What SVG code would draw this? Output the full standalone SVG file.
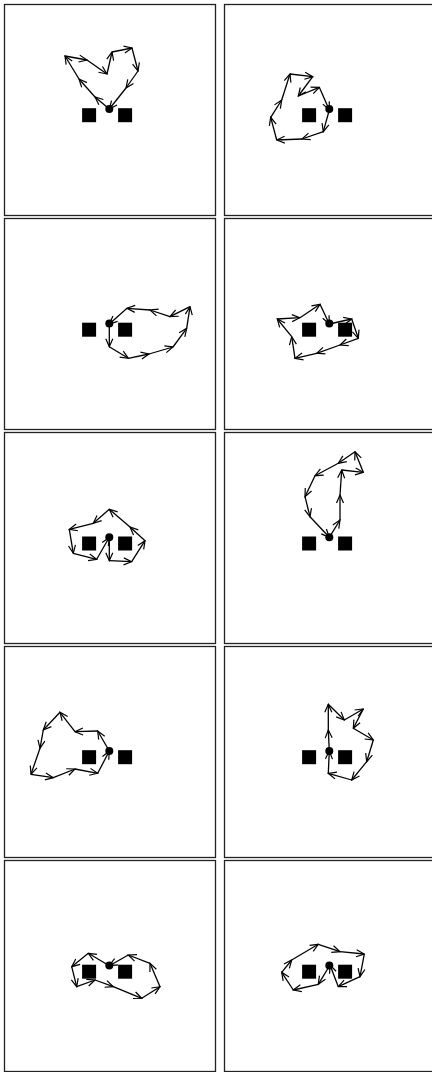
<svg xmlns="http://www.w3.org/2000/svg" xmlns:xlink="http://www.w3.org/1999/xlink" width="432" height="1072" viewBox="0 0 432 1072">
<style>
.frame{fill:#fff;stroke:#222;stroke-width:1.3}
.sq{fill:#000}
.dot{fill:#000}
.step{stroke:#000;stroke-width:1.3;fill:none;marker-end:url(#ah)}
</style>
<defs>
<marker id="ah" viewBox="-10 -5 11 10" refX="0" refY="0" markerWidth="11" markerHeight="10" markerUnits="userSpaceOnUse" orient="auto">
<path d="M-8,-3.5 L0,0 L-8,3.5" fill="none" stroke="#000" stroke-width="1.2"/>
</marker>
<g id="fx">
<rect class="sq" x="-27.2" y="-0.8" width="14" height="14"/>
<rect class="sq" x="8.8" y="-0.8" width="14" height="14"/>
<circle class="dot" cx="0" cy="0" r="4"/>
</g>
</defs>
<rect width="432" height="1072" fill="#fff"/>
<g id="panel-1"><rect class="frame" x="4.5" y="4.5" width="211" height="211"/><use xlink:href="#fx" x="109.3" y="109"/></g>
<g id="panel-2"><rect class="frame" x="224.5" y="4.5" width="211" height="211"/><use xlink:href="#fx" x="329.3" y="109"/></g>
<g id="panel-3"><rect class="frame" x="4.5" y="218.5" width="211" height="211"/><use xlink:href="#fx" x="109.3" y="323.5"/></g>
<g id="panel-4"><rect class="frame" x="224.5" y="218.5" width="211" height="211"/><use xlink:href="#fx" x="329.3" y="323.5"/></g>
<g id="panel-5"><rect class="frame" x="4.5" y="432.5" width="211" height="211"/><use xlink:href="#fx" x="109.3" y="537.3"/></g>
<g id="panel-6"><rect class="frame" x="224.5" y="432.5" width="211" height="211"/><use xlink:href="#fx" x="329.3" y="537.3"/></g>
<g id="panel-7"><rect class="frame" x="4.5" y="646.5" width="211" height="211"/><use xlink:href="#fx" x="109.3" y="751"/></g>
<g id="panel-8"><rect class="frame" x="224.5" y="646.5" width="211" height="211"/><use xlink:href="#fx" x="329.3" y="751"/></g>
<g id="panel-9"><rect class="frame" x="4.5" y="860.5" width="211" height="211"/><use xlink:href="#fx" x="109.3" y="965.5"/></g>
<g id="panel-10"><rect class="frame" x="224.5" y="860.5" width="211" height="211"/><use xlink:href="#fx" x="329.3" y="965.5"/></g>
<g id="connectors">
<g id="walk-1">
<path class="step" d="M109.3,109 L95,97"/><path class="step" d="M95,97 L79,79"/><path class="step" d="M79,79 L65,56"/><path class="step" d="M65,56 L87,60"/><path class="step" d="M87,60 L107,74"/><path class="step" d="M107,74 L112,52"/><path class="step" d="M112,52 L132,48"/><path class="step" d="M132,48 L138,71"/><path class="step" d="M138,71 L126,88"/><path class="step" d="M126,88 L109.3,109"/>
</g>
<g id="walk-2">
<path class="step" d="M329.3,110 L323.3,131.7"/><path class="step" d="M323.3,131.7 L302,139"/><path class="step" d="M302,139 L276.7,140"/><path class="step" d="M276.7,140 L270.7,117.3"/><path class="step" d="M270.7,117.3 L281.7,100"/><path class="step" d="M281.7,100 L290,74"/><path class="step" d="M290,74 L312.7,76.7"/><path class="step" d="M312.7,76.7 L298.3,96"/><path class="step" d="M298.3,96 L319.3,87.3"/><path class="step" d="M319.3,87.3 L329.3,110"/>
</g>
<g id="walk-3">
<path class="step" d="M109.3,324 L109.3,346.7"/><path class="step" d="M109.3,346.7 L128.3,358.3"/><path class="step" d="M128.3,358.3 L149,354"/><path class="step" d="M149,354 L173,347"/><path class="step" d="M173,347 L186.7,328.3"/><path class="step" d="M186.7,328.3 L190,306.7"/><path class="step" d="M190,306.7 L170,316.7"/><path class="step" d="M170,316.7 L150,310"/><path class="step" d="M150,310 L127,308.3"/><path class="step" d="M127,308.3 L109.3,324"/>
</g>
<g id="walk-4">
<path class="step" d="M329.3,324 L351.7,319"/><path class="step" d="M351.7,319 L358.3,338.3"/><path class="step" d="M358.3,338.3 L340,345"/><path class="step" d="M340,345 L316.7,353.3"/><path class="step" d="M316.7,353.3 L295,358.3"/><path class="step" d="M295,358.3 L291.7,336.7"/><path class="step" d="M291.7,336.7 L277.3,319"/><path class="step" d="M277.3,319 L300,317.7"/><path class="step" d="M300,317.7 L320,304.3"/><path class="step" d="M320,304.3 L329.3,324"/>
</g>
<g id="walk-5">
<path class="step" d="M109.3,537.3 L109.3,560.7"/><path class="step" d="M109.3,560.7 L131.7,561.7"/><path class="step" d="M131.7,561.7 L145,540.7"/><path class="step" d="M145,540.7 L130,527"/><path class="step" d="M130,527 L109.3,509.3"/><path class="step" d="M109.3,509.3 L93.3,523.3"/><path class="step" d="M93.3,523.3 L69.3,529.3"/><path class="step" d="M69.3,529.3 L73.3,553.3"/><path class="step" d="M73.3,553.3 L96.7,559.3"/><path class="step" d="M96.7,559.3 L109.3,537.3"/>
</g>
<g id="walk-6">
<path class="step" d="M329.3,537.3 L340,520"/><path class="step" d="M340,520 L340,495"/><path class="step" d="M340,495 L341.7,470"/><path class="step" d="M341.7,470 L363.3,472.3"/><path class="step" d="M363.3,472.3 L355,451.7"/><path class="step" d="M355,451.7 L338.3,463.3"/><path class="step" d="M338.3,463.3 L315,475.7"/><path class="step" d="M315,475.7 L305,496.7"/><path class="step" d="M305,496.7 L310,516.7"/><path class="step" d="M310,516.7 L329.3,537.3"/>
</g>
<g id="walk-7">
<path class="step" d="M109.3,751 L97.7,731"/><path class="step" d="M97.7,731 L75,731.7"/><path class="step" d="M75,731.7 L60,712.3"/><path class="step" d="M60,712.3 L43.3,730"/><path class="step" d="M43.3,730 L40,748.3"/><path class="step" d="M40,748.3 L31,774.3"/><path class="step" d="M31,774.3 L53.3,777.7"/><path class="step" d="M53.3,777.7 L75,769"/><path class="step" d="M75,769 L97.7,773.3"/><path class="step" d="M97.7,773.3 L109.3,751"/>
</g>
<g id="walk-8">
<path class="step" d="M329.3,751 L328.3,730"/><path class="step" d="M328.3,730 L328.3,704.3"/><path class="step" d="M328.3,704.3 L344.3,720"/><path class="step" d="M344.3,720 L363.3,709"/><path class="step" d="M363.3,709 L353.3,728.3"/><path class="step" d="M353.3,728.3 L373.3,740"/><path class="step" d="M373.3,740 L366.7,761.7"/><path class="step" d="M366.7,761.7 L351.7,780"/><path class="step" d="M351.7,780 L328.3,773.3"/><path class="step" d="M328.3,773.3 L329.3,751"/>
</g>
<g id="walk-9">
<path class="step" d="M109.3,965.7 L88.3,953.3"/><path class="step" d="M88.3,953.3 L71.7,966.7"/><path class="step" d="M71.7,966.7 L76.7,986.7"/><path class="step" d="M76.7,986.7 L95,980"/><path class="step" d="M95,980 L113.3,986.7"/><path class="step" d="M113.3,986.7 L141.7,998.3"/><path class="step" d="M141.7,998.3 L160,986.7"/><path class="step" d="M160,986.7 L150,963.3"/><path class="step" d="M150,963.3 L128.3,955"/><path class="step" d="M128.3,955 L109.3,965.7"/>
</g>
<g id="walk-10">
<path class="step" d="M330,965 L318.3,984.3"/><path class="step" d="M318.3,984.3 L293.3,990"/><path class="step" d="M293.3,990 L281.7,972.3"/><path class="step" d="M281.7,972.3 L291.7,960"/><path class="step" d="M291.7,960 L318.3,944.3"/><path class="step" d="M318.3,944.3 L340,951.7"/><path class="step" d="M340,951.7 L364.3,954"/><path class="step" d="M364.3,954 L360,976.7"/><path class="step" d="M360,976.7 L338.3,986.7"/><path class="step" d="M338.3,986.7 L330,965"/>
</g>
</g>
</svg>
